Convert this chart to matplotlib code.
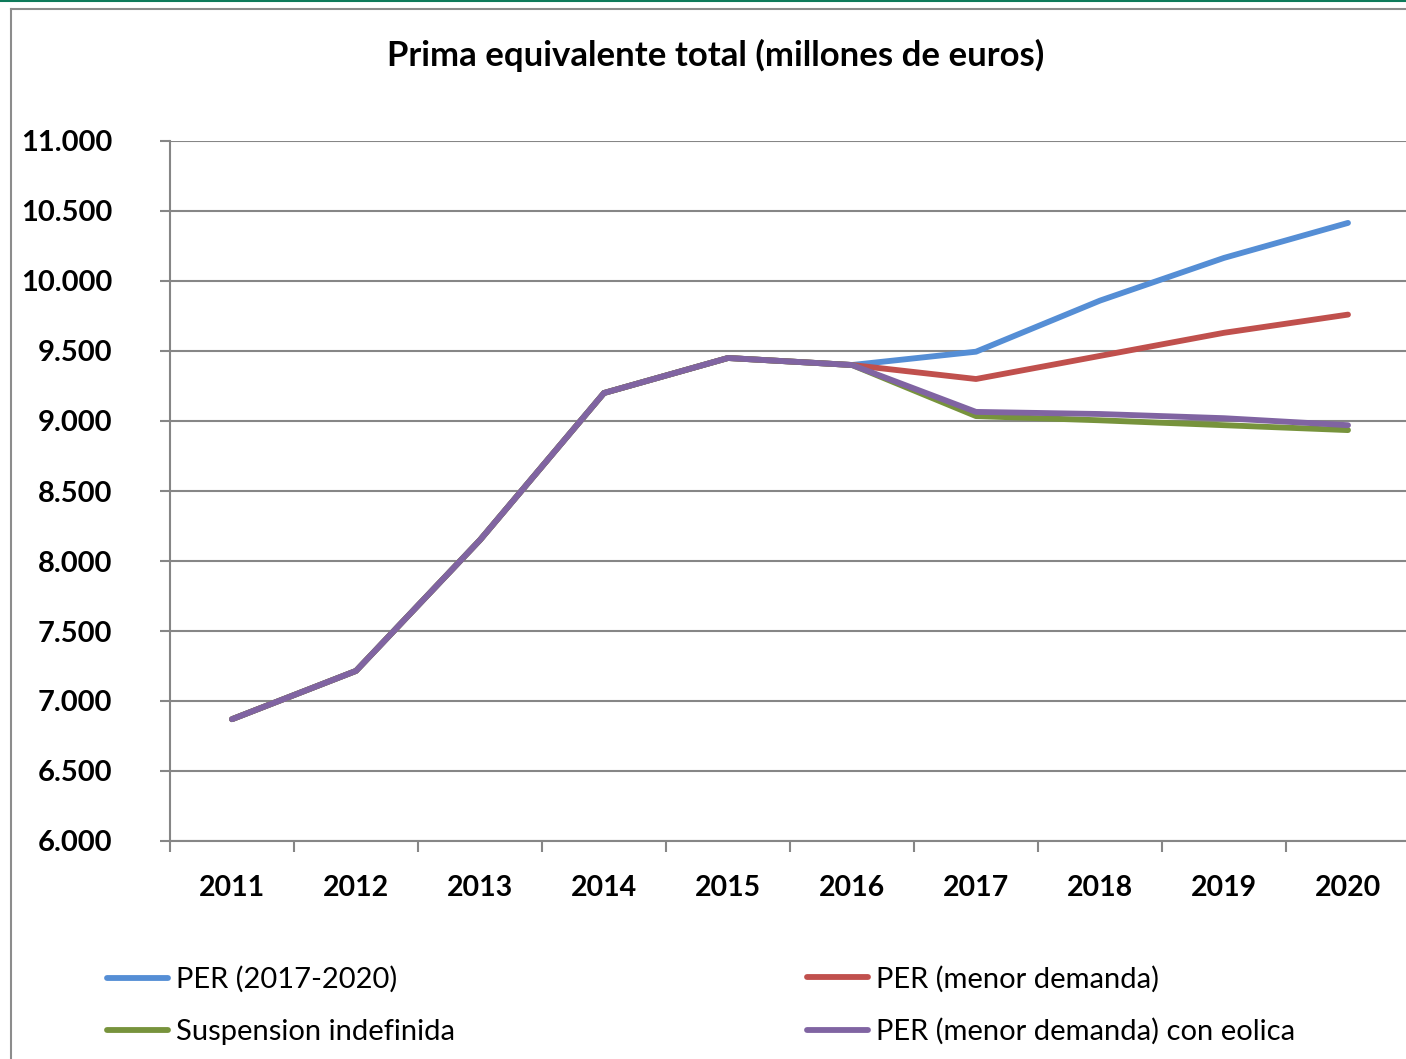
import numpy as np
import matplotlib.pyplot as plt
from matplotlib.lines import Line2D

years = ['2011', '2012', '2013', '2014', '2015', '2016', '2017', '2018', '2019', '2020']
per_2017_2020 = [6870, 7215, 8150, 9200, 9450, 9400, 9495, 9860, 10165, 10415]
per_menor = [6870, 7215, 8150, 9200, 9450, 9400, 9300, 9465, 9630, 9760]
suspension = [6870, 7215, 8150, 9200, 9450, 9400, 9035, 9005, 8970, 8935]
per_menor_eolica = [6870, 7215, 8150, 9200, 9450, 9400, 9065, 9050, 9020, 8970]
yticks = [6000, 6500, 7000, 7500, 8000, 8500, 9000, 9500, 10000, 10500, 11000]

W, H = 1406, 1059
fig = plt.figure(figsize=(W / 100, H / 100), dpi=100)
ax = fig.add_axes([170 / W, 218 / H, 1240 / W, 700 / H])

bold_font = ['Lato', 'DejaVu Sans']
grid_col = '#868686'

x = np.arange(len(years))
kw = dict(lw=4.2, solid_capstyle='round', solid_joinstyle='round')
l1, = ax.plot(x, per_2017_2020, color='#558ED5', zorder=3, **kw)
l2, = ax.plot(x, per_menor, color='#C0504D', zorder=3, **kw)
l3, = ax.plot(x, suspension, color='#77933C', zorder=4, **kw)
l4, = ax.plot(x, per_menor_eolica, color='#8064A2', zorder=5, **kw)

ax.set_xlim(-0.5, 9.5)
ax.set_ylim(6000, 11000)
ax.set_yticks(yticks)
ax.set_yticklabels([f'{v:,}'.replace(',', '.') for v in yticks],
                   fontsize=21, fontweight='bold', family=bold_font)
ax.set_xticks(x)
ax.set_xticklabels(years, fontsize=20.5, fontweight='bold', family=bold_font)
ax.set_xticks(np.arange(-0.5, 10, 1), minor=True)
ax.tick_params(axis='x', which='major', length=0, pad=24.5)
ax.tick_params(axis='x', which='minor', length=8, width=1.5, color=grid_col)
ax.tick_params(axis='y', length=7, width=1.5, color=grid_col, pad=34.5)
ax.grid(axis='y', color=grid_col, lw=1.5)
ax.set_axisbelow(True)
for s in ['top', 'right']:
    ax.spines[s].set_visible(False)
for s in ['left', 'bottom']:
    ax.spines[s].set_color(grid_col)
    ax.spines[s].set_linewidth(1.5)

fig.text(716 / W, 1 - 55 / H, 'Prima equivalente total (millones de euros)',
         ha='center', va='center', fontsize=25, fontweight='bold', family=bold_font)

# chart frame and top border
fig.add_artist(Line2D([11 / W, 11 / W], [0, 1 - 9 / H], color='#8c8c8c', lw=1.5))
fig.add_artist(Line2D([11 / W, 1], [1 - 9 / H, 1 - 9 / H], color='#8c8c8c', lw=1.5))
fig.add_artist(Line2D([0, 1], [1 - 1 / H, 1 - 1 / H], color='#0e7a5a', lw=1.5))

leg_kw = dict(loc='center left', frameon=False, handlelength=2.1, handletextpad=0.28,
              labelspacing=0.88, borderpad=0, borderaxespad=0,
              prop={'family': ['Lato', 'DejaVu Sans'], 'size': 21})
fig.legend([l1, l3], ['PER (2017-2020)', 'Suspension indefinida'],
           bbox_to_anchor=(107 / W, 1 - 1005.5 / H), **leg_kw)
fig.legend([l2, l4], ['PER (menor demanda)', 'PER (menor demanda) con eolica'],
           bbox_to_anchor=(807 / W, 1 - 1005.5 / H), **leg_kw)

fig.savefig('out.png', dpi=100)
